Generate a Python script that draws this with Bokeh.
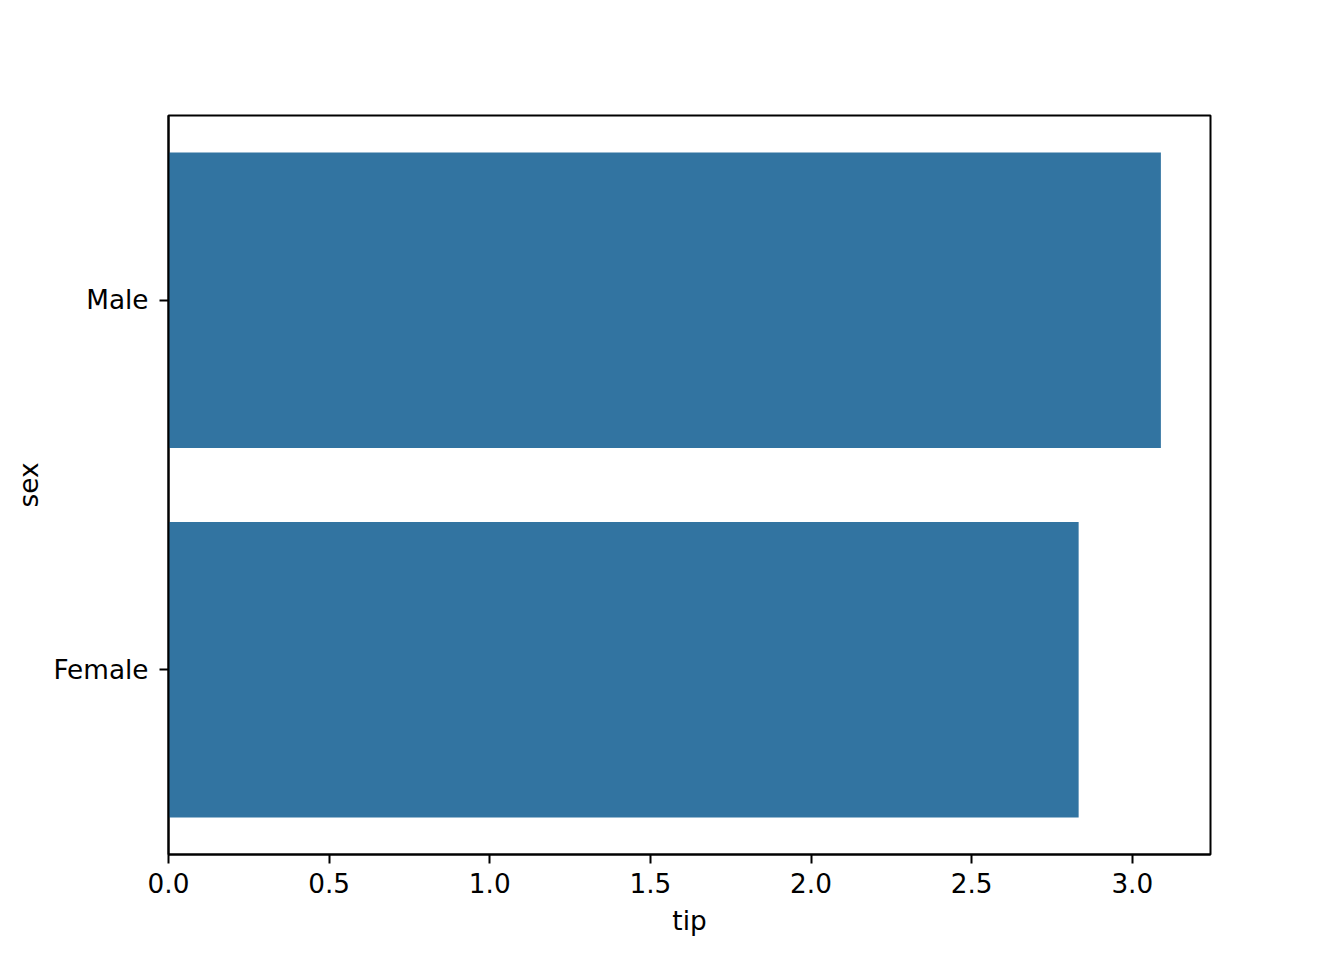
from bokeh.plotting import figure
from bokeh.embed import file_html
from bokeh.resources import INLINE
from bokeh.models import FactorRange, Range1d, FixedTicker

categories = ["Female", "Male"]
tip_means = [2.833, 3.089]
x_ticks = [0.0, 0.5, 1.0, 1.5, 2.0, 2.5, 3.0]

FONT = "DejaVu Sans"
FS = "26.3px"

p = figure(width=1328, height=944, output_backend="svg", toolbar_location=None,
           y_range=FactorRange(factors=categories, range_padding=0),
           x_range=Range1d(0, max(tip_means) * 1.05),
           min_border_left=168, min_border_right=118, min_border_top=115, min_border_bottom=90)

p.hbar(y=categories, right=tip_means, left=0, height=0.8, color="#3274a1", line_color=None)

p.xgrid.visible = False
p.ygrid.visible = False
p.outline_line_color = "black"
p.outline_line_width = 2
p.background_fill_color = "white"
p.border_fill_color = "white"

p.xaxis.ticker = FixedTicker(ticks=x_ticks)
p.xaxis.major_label_overrides = {t: f"{t:.1f}" for t in x_ticks}

for ax in (p.xaxis[0], p.yaxis[0]):
    ax.axis_line_color = "black"
    ax.axis_line_width = 2
    ax.major_tick_line_color = "black"
    ax.major_tick_line_width = 2
    ax.major_tick_out = 9
    ax.major_tick_in = 0
    ax.minor_tick_line_color = None
    ax.major_label_text_font = FONT
    ax.major_label_text_font_size = FS
    ax.major_label_text_color = "black"
    ax.axis_label_text_font = FONT
    ax.axis_label_text_font_size = FS
    ax.axis_label_text_font_style = "normal"
    ax.axis_label_text_color = "black"

p.xaxis.major_label_standoff = 9
p.yaxis.major_label_standoff = 11
p.xaxis.axis_label = "tip"
p.yaxis.axis_label = "sex"
p.xaxis.axis_label_standoff = 10
p.yaxis.axis_label_standoff = 6
p.yaxis.major_label_orientation = "horizontal"

open("out.html", "w").write(file_html(p, INLINE))
